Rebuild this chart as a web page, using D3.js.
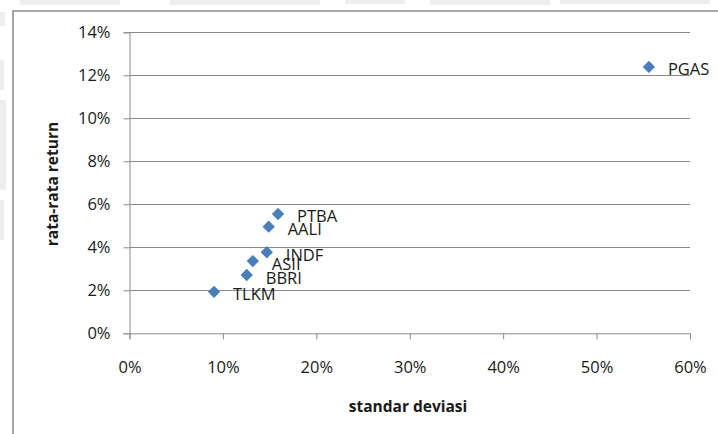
<!DOCTYPE html>
<html>
<head>
<meta charset="utf-8">
<script src="https://cdn.jsdelivr.net/npm/d3@7"></script>
<style>
  html, body { margin: 0; padding: 0; background: #fff; }
  svg { display: block; }
  text { font-family: "Open Sans", "DejaVu Sans", sans-serif; fill: #1a1a1a; }
</style>
</head>
<body>
<svg id="chart" width="718" height="434"></svg>
<script>
// Stock tickers with their standard deviation (risk) and mean return
const tickers   = ["PGAS", "PTBA", "AALI", "INDF", "ASII", "BBRI", "TLKM"];
const stdDev    = [0.556, 0.159, 0.149, 0.147, 0.132, 0.1255, 0.0905];
const meanRet   = [0.1239, 0.0555, 0.0496, 0.0377, 0.0336, 0.0271, 0.0193];

const xTicks = [0, 0.1, 0.2, 0.3, 0.4, 0.5, 0.6];
const yTicks = [0, 0.02, 0.04, 0.06, 0.08, 0.10, 0.12, 0.14];

const xTitle = "standar deviasi";
const yTitle = "rata-rata return";

const points = tickers.map((t, i) => ({ name: t, sd: stdDev[i], ret: meanRet[i] }));

const svg = d3.select("#chart");
const W = 718, H = 434;

// faint scanned-page smudges along the top and left edges
const smudge = svg.append("g").attr("fill", "#eeeeee");
[[20, 0, 100, 5], [170, 0, 150, 5], [345, 0, 60, 4], [430, 0, 120, 5], [560, 0, 150, 4]]
  .forEach(r => smudge.append("rect").attr("x", r[0]).attr("y", r[1]).attr("width", r[2]).attr("height", r[3]));
[[0, 12, 5, 14], [0, 60, 4, 30], [0, 100, 6, 90], [0, 200, 4, 40]]
  .forEach(r => smudge.append("rect").attr("x", r[0]).attr("y", r[1]).attr("width", r[2]).attr("height", r[3]));

// chart frame
svg.append("path")
  .attr("d", `M13,${H} V11 H${W}`)
  .attr("fill", "none")
  .attr("stroke", "#8f8f8f")
  .attr("stroke-width", 1.6);

const x = d3.scaleLinear().domain([0, 0.6]).range([129.5, 690]);
const y = d3.scaleLinear().domain([0, 0.14]).range([333.3, 32.3]);

const pct = d3.format(".0%");

// horizontal gridlines
svg.append("g")
  .selectAll("line")
  .data(yTicks.filter(v => v > 0))
  .join("line")
  .attr("x1", x(0)).attr("x2", x(0.6))
  .attr("y1", d => Math.round(y(d)) + 0.5).attr("y2", d => Math.round(y(d)) + 0.5)
  .attr("stroke", "#8a8a8a")
  .attr("stroke-width", 1);

// y axis
const yAxis = svg.append("g")
  .attr("transform", `translate(${x(0)},0)`)
  .call(d3.axisLeft(y).tickValues(yTicks).tickFormat(pct).tickSize(6).tickPadding(13));
yAxis.select(".domain").attr("stroke", "#8a8a8a");
yAxis.selectAll(".tick line").attr("stroke", "#8a8a8a");
yAxis.selectAll(".tick text")
  .attr("font-size", 16.5)
  .attr("font-family", "'Open Sans', sans-serif")
  .attr("fill", "#1a1a1a");

// x axis
const xAxis = svg.append("g")
  .attr("transform", `translate(0,${y(0)})`)
  .call(d3.axisBottom(x).tickValues(xTicks).tickFormat(pct).tickSize(6).tickPadding(22));
xAxis.select(".domain").attr("stroke", "#8a8a8a");
xAxis.selectAll(".tick line").attr("stroke", "#8a8a8a");
xAxis.selectAll(".tick text")
  .attr("font-size", 16.5)
  .attr("font-family", "'Open Sans', sans-serif")
  .attr("fill", "#1a1a1a");

// axis titles
svg.append("text")
  .attr("x", 408).attr("y", 406)
  .attr("text-anchor", "middle")
  .attr("dominant-baseline", "central")
  .attr("font-size", 15.5)
  .attr("font-weight", "bold")
  .text(xTitle);

svg.append("text")
  .attr("transform", "translate(52,184) rotate(-90)")
  .attr("text-anchor", "middle")
  .attr("dominant-baseline", "central")
  .attr("font-size", 15.5)
  .attr("font-weight", "bold")
  .text(yTitle);

// diamond markers
svg.append("g")
  .selectAll("path")
  .data(points)
  .join("path")
  .attr("transform", d => `translate(${x(d.sd)},${y(d.ret)}) rotate(45)`)
  .attr("d", d3.symbol().type(d3.symbolSquare).size(76))
  .attr("fill", "#4a7ebb");

// data labels
svg.append("g")
  .selectAll("text")
  .data(points)
  .join("text")
  .attr("x", d => x(d.sd) + 19)
  .attr("y", d => y(d.ret) + 2)
  .attr("dominant-baseline", "central")
  .attr("font-size", 16.5)
  .text(d => d.name);
</script>
</body>
</html>
